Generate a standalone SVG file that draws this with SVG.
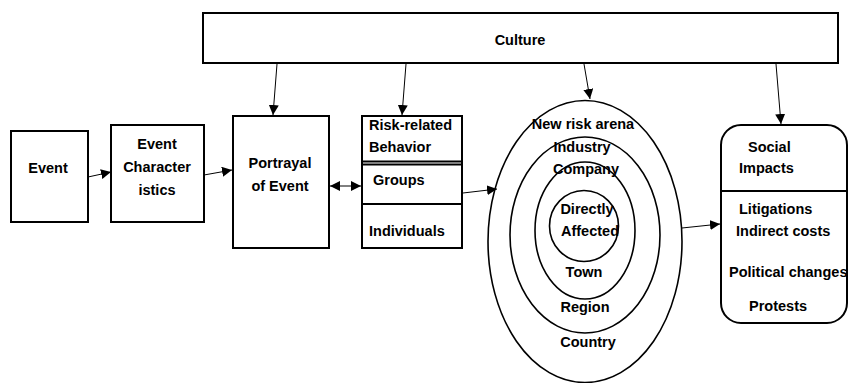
<svg xmlns="http://www.w3.org/2000/svg" width="848" height="383" viewBox="0 0 848 383">
  <style>
    .box { fill: #ffffff; stroke: #000000; stroke-width: 2; }
    .ring { fill: none; stroke: #000000; stroke-width: 1.6; }
    .div { stroke: #000000; stroke-width: 2; }
    .lbl { font-family: "Liberation Sans", Arial, sans-serif; font-weight: bold; font-size: 14.5px; fill: #000000; }
    .c { text-anchor: middle; }
    .edge { stroke: #000000; stroke-width: 1; fill: none; marker-end: url(#arrow); }
  </style>
  <defs>
    <marker id="arrow" viewBox="0 0 10 10" refX="10" refY="5" markerWidth="10" markerHeight="10" markerUnits="userSpaceOnUse" orient="auto">
      <path d="M0,0 L10,5 L0,10 z" fill="#000000"/>
    </marker>
    <marker id="arrowStart" viewBox="0 0 10 10" refX="0" refY="5" markerWidth="10" markerHeight="10" markerUnits="userSpaceOnUse" orient="auto">
      <path d="M10,0 L0,5 L10,10 z" fill="#000000"/>
    </marker>
  </defs>
  <rect width="848" height="383" fill="#ffffff"/>

  <g id="culture">
    <rect class="box" x="203" y="13" width="635" height="50"/>
    <text class="lbl c" x="520" y="45">Culture</text>
  </g>

  <g id="event">
    <rect class="box" x="11" y="131" width="77" height="91"/>
    <text class="lbl c" x="48" y="173">Event</text>
  </g>

  <g id="event-characteristics">
    <rect class="box" x="111" y="125" width="93" height="97"/>
    <text class="lbl c" x="157" y="149">Event</text>
    <text class="lbl c" x="157" y="172">Character</text>
    <text class="lbl c" x="157" y="195">istics</text>
  </g>

  <g id="portrayal">
    <rect class="box" x="233" y="116" width="96" height="132"/>
    <text class="lbl c" x="280" y="168">Portrayal</text>
    <text class="lbl c" x="280" y="191">of Event</text>
  </g>

  <g id="risk-behavior">
    <rect class="box" x="362" y="116" width="100" height="132"/>
    <line class="div" x1="362" y1="161.5" x2="462" y2="161.5"/>
    <line class="div" x1="362" y1="164.5" x2="462" y2="164.5"/>
    <line class="div" x1="362" y1="204" x2="462" y2="204"/>
    <text class="lbl" x="369" y="130">Risk-related</text>
    <text class="lbl" x="369" y="152">Behavior</text>
    <text class="lbl" x="373" y="185">Groups</text>
    <text class="lbl" x="369" y="236">Individuals</text>
  </g>

  <g id="risk-arena">
    <ellipse class="ring" cx="585" cy="241.5" rx="97" ry="141"/>
    <ellipse class="ring" cx="585" cy="235" rx="75" ry="98"/>
    <ellipse class="ring" cx="585" cy="230.5" rx="50" ry="68.5"/>
    <ellipse class="ring" cx="584" cy="226" rx="34.5" ry="35.5"/>
    <text class="lbl c" x="583" y="129">New risk arena</text>
    <text class="lbl c" x="582" y="152">Industry</text>
    <text class="lbl c" x="586" y="174">Company</text>
    <text class="lbl c" x="587" y="214">Directly</text>
    <text class="lbl c" x="590" y="236">Affected</text>
    <text class="lbl c" x="584" y="277">Town</text>
    <text class="lbl c" x="585" y="312">Region</text>
    <text class="lbl c" x="588" y="347">Country</text>
  </g>

  <g id="social-impacts">
    <rect class="box" x="721" y="125" width="126" height="198" rx="20" ry="20"/>
    <line class="div" x1="721" y1="191" x2="847" y2="191"/>
    <text class="lbl" x="748" y="152">Social</text>
    <text class="lbl" x="739" y="173">Impacts</text>
    <text class="lbl" x="739" y="214">Litigations</text>
    <text class="lbl" x="736" y="236">Indirect costs</text>
    <text class="lbl" x="729" y="277">Political changes</text>
    <text class="lbl" x="749" y="311">Protests</text>
  </g>

  <g id="connectors">
    <line class="edge" x1="88" y1="177" x2="111" y2="172"/>
    <line class="edge" x1="204" y1="175" x2="232" y2="170"/>
    <line class="edge" x1="330" y1="186" x2="361" y2="186" marker-start="url(#arrowStart)"/>
    <line class="edge" x1="463" y1="193" x2="497" y2="189"/>
    <line class="edge" x1="682" y1="228" x2="720" y2="224"/>
    <line class="edge" x1="277" y1="64" x2="273" y2="115"/>
    <line class="edge" x1="406" y1="64" x2="402" y2="115"/>
    <line class="edge" x1="584" y1="64" x2="590" y2="99"/>
    <line class="edge" x1="776" y1="64" x2="781" y2="124"/>
  </g>
</svg>
